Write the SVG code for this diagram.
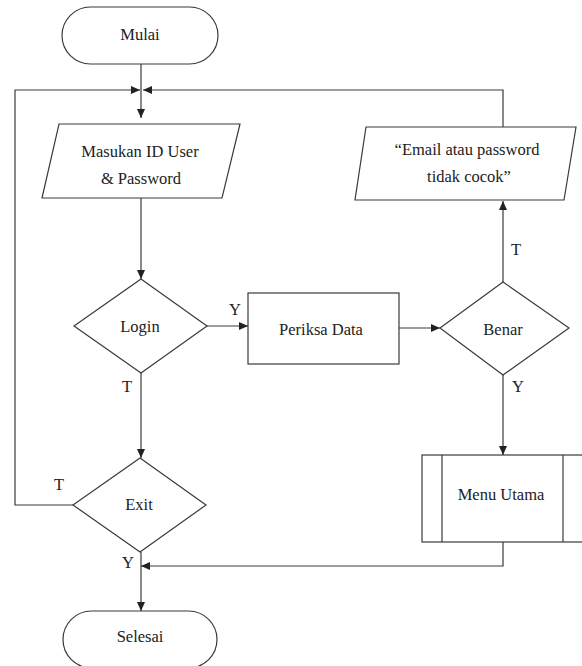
<svg xmlns="http://www.w3.org/2000/svg" width="582" height="666" viewBox="0 0 582 666">
<style>
.s{fill:#fff;stroke:#3a3a3a;stroke-width:1.2}
.c{fill:none;stroke:#3a3a3a;stroke-width:1.2}
.t{font-family:'Liberation Serif','Times New Roman',Times,serif;font-size:16.5px;fill:#222;text-anchor:middle}
</style>
<defs>
<marker id="ah" markerWidth="10" markerHeight="8" refX="9" refY="4" orient="auto" markerUnits="userSpaceOnUse">
<path d="M0,0 L9,4 L0,8 z" fill="#222"/>
</marker>
</defs>
<rect width="582" height="666" fill="#fff"/>
<g id="connectors">
<path class="c" d="M141,64 V118" marker-end="url(#ah)"/>
<path class="c" d="M73,505 H15 V90 H140" marker-end="url(#ah)"/>
<path class="c" d="M503,127 V90 H143" marker-end="url(#ah)"/>
<path class="c" d="M141,198 V279" marker-end="url(#ah)"/>
<path class="c" d="M207,326 H248" marker-end="url(#ah)"/>
<path class="c" d="M399,328 H440" marker-end="url(#ah)"/>
<path class="c" d="M503,282 V201" marker-end="url(#ah)"/>
<path class="c" d="M503,375 V455" marker-end="url(#ah)"/>
<path class="c" d="M141,373 V458" marker-end="url(#ah)"/>
<path class="c" d="M503,542 V566 H141" marker-end="url(#ah)"/>
<path class="c" d="M141,552 V611" marker-end="url(#ah)"/>
<g class="t" font-family="Liberation Serif, serif">
<text x="235" y="315">Y</text>
<text x="127" y="392">T</text>
<text x="59" y="490">T</text>
<text x="128" y="568">Y</text>
<text x="516" y="255">T</text>
<text x="518" y="392">Y</text>
</g>
</g>
<g id="mulai">
<rect class="s" x="62" y="7" width="156" height="57" rx="28.5"/>
<text class="t" x="140" y="40">Mulai</text>
</g>
<g id="input">
<polygon class="s" points="59,124 240,124 222,198 42,198"/>
<text class="t" x="140" y="157">Masukan ID User</text>
<text class="t" x="141" y="184">&amp; Password</text>
</g>
<g id="login">
<polygon class="s" points="141,279 207,326 141,373 74,326"/>
<text class="t" x="140" y="332">Login</text>
</g>
<g id="periksa">
<rect class="s" x="248" y="293" width="151" height="71"/>
<text class="t" x="321" y="335">Periksa Data</text>
</g>
<g id="benar">
<polygon class="s" points="503,282 569,328 503,375 440,328"/>
<text class="t" x="503" y="335">Benar</text>
</g>
<g id="pesan">
<polygon class="s" points="366,127 576,127 564,200 355,200"/>
<text class="t" x="467" y="155">“Email atau password</text>
<text class="t" x="469" y="182">tidak cocok”</text>
</g>
<g id="menu">
<rect class="s" x="422" y="455" width="162" height="87"/>
<path class="c" d="M442,455 V542 M563,455 V542"/>
<text class="t" x="501" y="500">Menu Utama</text>
</g>
<g id="exit">
<polygon class="s" points="140,458 206,505 140,552 73,505"/>
<text class="t" x="139" y="510">Exit</text>
</g>
<g id="selesai">
<rect class="s" x="63" y="611" width="154" height="57" rx="28.5"/>
<text class="t" x="140" y="642">Selesai</text>
</g>
</svg>
